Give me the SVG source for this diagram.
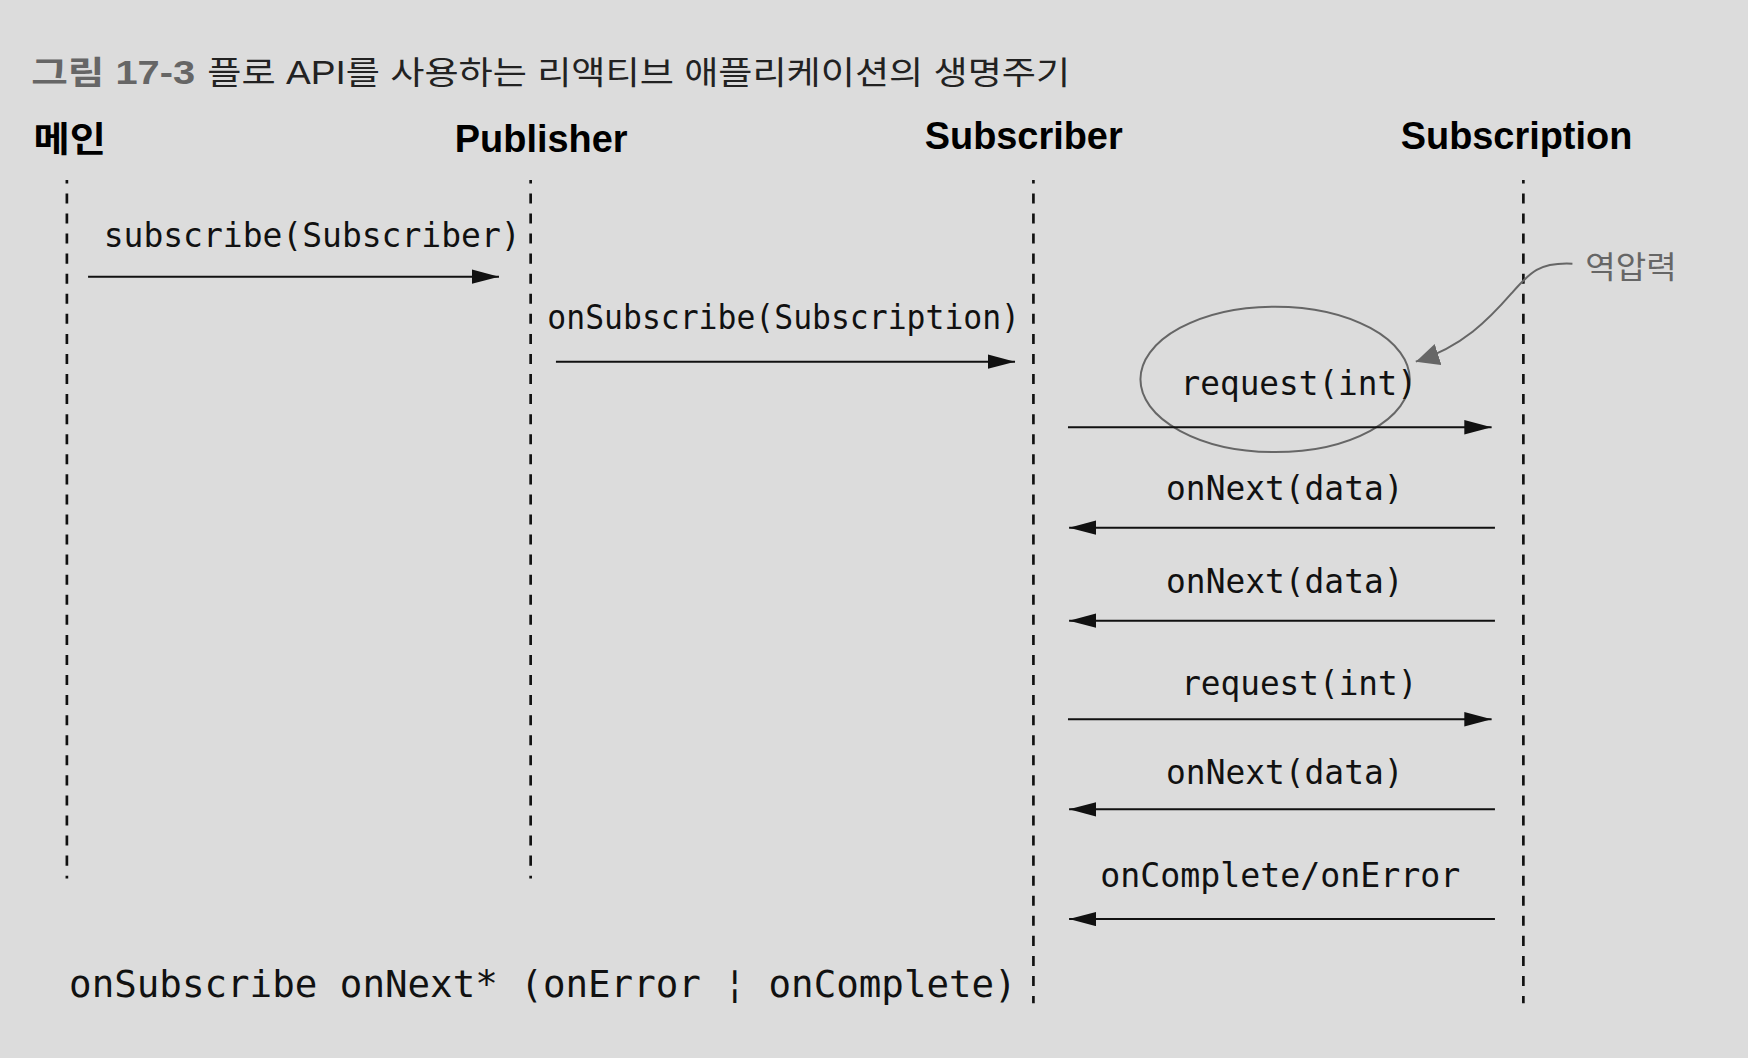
<svg xmlns="http://www.w3.org/2000/svg" width="1748" height="1058" viewBox="0 0 1748 1058">
<defs>
<style>
.title{font-family:"Liberation Sans","Noto Sans CJK KR",sans-serif;font-size:29px}
.head{font-family:"Liberation Sans","Noto Sans CJK KR",sans-serif;font-size:34px;font-weight:bold;fill:#000}
.msg{font-family:"DejaVu Sans Mono",monospace;font-size:29.6px;fill:#111}
.life{stroke:#111;stroke-width:2.4;stroke-dasharray:9 9;stroke-dashoffset:6;fill:none}
.arrow{stroke:#111;stroke-width:1.8;fill:none}
.note{stroke:#666;stroke-width:1.8;fill:none}
</style>
<marker id="ah" markerUnits="userSpaceOnUse" markerWidth="26" markerHeight="14" refX="24.5" refY="6.5" orient="auto">
<path d="M0,0 L24.5,6.5 L0,13 z" fill="#111"/>
</marker>
<marker id="ahg" markerUnits="userSpaceOnUse" markerWidth="22" markerHeight="21" refX="21" refY="10" orient="auto">
<path d="M0,0 L21,10 L0,20 z" fill="#666"/>
</marker>
</defs>
<rect width="1748" height="1058" fill="#dcdcdc"/>
<g transform="scale(1.1148)">
<g id="title">
<text class="title" x="28" y="75" style="font-weight:bold" fill="#666" textLength="147" lengthAdjust="spacingAndGlyphs">그림 17-3</text>
<text class="title" x="186" y="75" fill="#222" textLength="774" lengthAdjust="spacingAndGlyphs">플로 API를 사용하는 리액티브 애플리케이션의 생명주기</text>
</g>
<g id="main">
<text class="head" x="30" y="136" style="font-size:32px" textLength="65" lengthAdjust="spacingAndGlyphs">메인</text>
<line class="life" x1="60" y1="161.5" x2="60" y2="788"/>
</g>
<g id="publisher">
<text class="head" x="408" y="136.5">Publisher</text>
<line class="life" x1="476" y1="161.5" x2="476" y2="788"/>
</g>
<g id="subscriber">
<text class="head" x="829.5" y="134">Subscriber</text>
<line class="life" x1="927" y1="161.5" x2="927" y2="900"/>
</g>
<g id="subscription">
<text class="head" x="1256.5" y="134">Subscription</text>
<line class="life" x1="1366.5" y1="161.5" x2="1366.5" y2="900"/>
</g>
<g id="backpressure">
<ellipse class="note" cx="1143.8" cy="340.3" rx="120.8" ry="65.2"/>
<text x="1422" y="249.6" font-family="Noto Sans CJK KR, sans-serif" font-size="28" fill="#666" textLength="82" lengthAdjust="spacingAndGlyphs">역압력</text>
</g>
<g id="connectors">
<path class="note" d="M1410.5,236.5 C1380,235 1372,245 1356,263 C1336,286 1312,311 1270,324.4" marker-end="url(#ahg)"/>
<line class="arrow" x1="79" y1="248.2" x2="447.6" y2="248.2" marker-end="url(#ah)"/>
<line class="arrow" x1="498.7" y1="324.4" x2="910.5" y2="324.4" marker-end="url(#ah)"/>
<line class="arrow" x1="958" y1="383.3" x2="1338" y2="383.3" marker-end="url(#ah)"/>
<line class="arrow" x1="1341" y1="473.3" x2="959" y2="473.3" marker-end="url(#ah)"/>
<line class="arrow" x1="1341" y1="556.8" x2="959" y2="556.8" marker-end="url(#ah)"/>
<line class="arrow" x1="958" y1="645.2" x2="1338" y2="645.2" marker-end="url(#ah)"/>
<line class="arrow" x1="1341" y1="726" x2="959" y2="726" marker-end="url(#ah)"/>
<line class="arrow" x1="1341" y1="824.4" x2="959" y2="824.4" marker-end="url(#ah)"/>
</g>
<g id="labels">
<text class="msg" x="93" y="221.6" textLength="374" lengthAdjust="spacingAndGlyphs">subscribe(Subscriber)</text>
<text class="msg" x="491" y="295.1" textLength="424" lengthAdjust="spacingAndGlyphs">onSubscribe(Subscription)</text>
<text class="msg" x="1059" y="354.3" textLength="212" lengthAdjust="spacingAndGlyphs">request(int)</text>
<text class="msg" x="1046" y="448.5" textLength="213" lengthAdjust="spacingAndGlyphs">onNext(data)</text>
<text class="msg" x="1046" y="532.2" textLength="213" lengthAdjust="spacingAndGlyphs">onNext(data)</text>
<text class="msg" x="1059.5" y="623.4" textLength="212" lengthAdjust="spacingAndGlyphs">request(int)</text>
<text class="msg" x="1046" y="703.6" textLength="213" lengthAdjust="spacingAndGlyphs">onNext(data)</text>
<text class="msg" x="987" y="796" textLength="323" lengthAdjust="spacingAndGlyphs">onComplete/onError</text>
<text class="msg" x="62" y="894" style="font-size:33.6px" textLength="850" lengthAdjust="spacingAndGlyphs">onSubscribe onNext* (onError ¦ onComplete)</text>
</g>
</g>
</svg>
